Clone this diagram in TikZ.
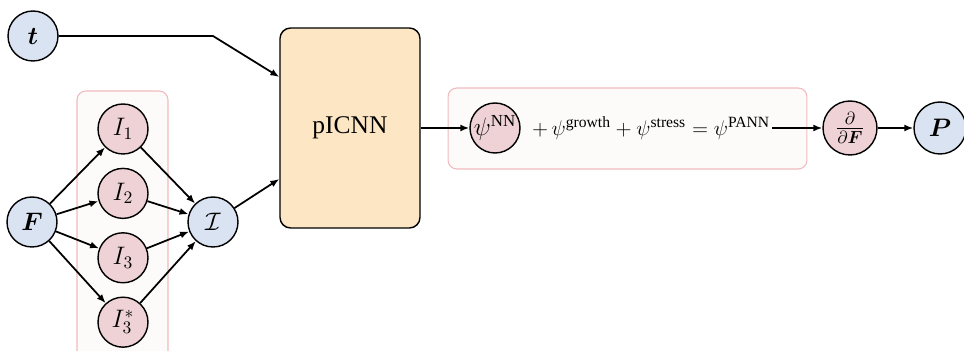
\documentclass[tikz,border=0pt]{standalone}
\usepackage{amsmath,amssymb,bm}
\usepackage{fontspec}
\setmainfont{Liberation Serif}
\usetikzlibrary{arrows.meta, positioning, fit, backgrounds}

\definecolor{varblue}{HTML}{DAE3F1}
\definecolor{invred}{HTML}{EED2D5}
\definecolor{netorange}{HTML}{FDE6C4}
\definecolor{grpfill}{HTML}{FCFBFA}
\definecolor{grpdraw}{HTML}{F0BABE}

\begin{document}
\begin{tikzpicture}[
    x=0.02cm, y=-0.02cm,
    node distance=0.26cm and 0.5cm,
    font=\fontsize{13.7}{16}\selectfont,
    var/.style={circle, draw=black, fill=varblue, line width=0.8pt, minimum size=1cm, inner sep=0pt},
    inv/.style={circle, draw=black, fill=invred, line width=0.8pt, minimum size=1cm, inner sep=0pt},
    net/.style={rectangle, draw=black, fill=netorange, rounded corners=6pt, line width=0.8pt, minimum width=2.8cm, minimum height=4cm, font=\fontsize{14.5}{17}\selectfont},
    group/.style={rectangle, draw=grpdraw, fill=grpfill, rounded corners=5pt, line width=0.6pt},
    line/.style={draw=black, line width=1pt, -{Latex[length=1.8mm, width=1.4mm]}}
]
    \useasboundingbox (0,0) rectangle (964,351);

    % Invariant group and energy group (backgrounds)
    \node [group, minimum width=1.82cm, minimum height=5.4cm] (invgroup) at (122.5,226) {};
    \node [group, minimum width=7.18cm, minimum height=1.62cm] (psigroup) at (627.5,128.5) {};

    % Inputs
    \node [var] (t) at (33,36) {$\bm{t}$};
    \node [var] (F) at (32,222) {$\bm{F}$};

    % Invariants
    \node [inv] (I1) at (123,129) {$I_1$};
    \node [inv, below=of I1] (I2) {$I_2$};
    \node [inv, below=of I2] (I3) {$I_3$};
    \node [inv, below=of I3] (I3s) {$I_3^*$};
    \node [var] (Iset) at (213,222) {$\mathcal{I}$};

    % Network
    \node [net] (picnn) at (350,128) {pICNN};

    % Energy terms
    \node [inv] (psinn) at (495,128) {$\psi^{\text{NN}}$};
    \node [anchor=west, inner sep=1pt, font=\fontsize{12.7}{15}\selectfont] (sum) at (530,128) {$+\,\psi^{\text{growth}} + \psi^{\text{stress}} = \psi^{\text{PANN}}$};

    % Derivative and output
    \node [inv, minimum size=1.08cm] (dF) at (850,128) {$\frac{\partial}{\partial\bm{F}}$};
    \node [var, minimum size=1.04cm] (P) at (940,128) {$\bm{P}$};

    % Connections
    \coordinate (tbend) at (213,36);
    \path [line] (t.east) -- (tbend) -- ([yshift=1.02cm]picnn.west);

    \path [line] (F) -- (I1);
    \path [line] (F) -- (I2);
    \path [line] (F) -- (I3);
    \path [line] (F) -- (I3s);

    \path [line] (I1) -- (Iset);
    \path [line] (I2) -- (Iset);
    \path [line] (I3) -- (Iset);
    \path [line] (I3s) -- (Iset);

    \path [line] (Iset) -- ([yshift=-1.02cm]picnn.west);
    \path [line] (picnn.east) -- (psinn.west);
    \path [line] (sum.east) -- (dF.west);
    \path [line] (dF.east) -- (P.west);

\end{tikzpicture}
\end{document}
